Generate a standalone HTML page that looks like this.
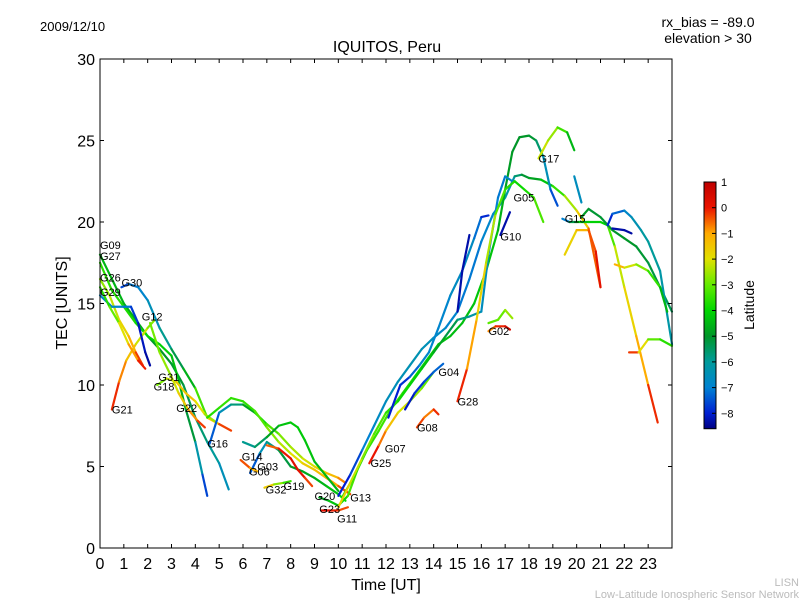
<!DOCTYPE html>
<html><head><meta charset="utf-8"><style>
body{margin:0;background:#fff}
svg text{font-family:"Liberation Sans",sans-serif}
</style></head><body>
<svg id="chart" width="800" height="600" viewBox="0 0 800 600" xmlns="http://www.w3.org/2000/svg">
<rect width="800" height="600" fill="#fff"/>
<text x="40" y="31" font-size="13">2009/12/10</text>
<text x="708" y="27" font-size="14" text-anchor="middle">rx_bias = -89.0</text>
<text x="708" y="43" font-size="14" text-anchor="middle">elevation &gt; 30</text>
<text x="387" y="52" font-size="16" text-anchor="middle">IQUITOS, Peru</text>
<g id="plot"></g>
<rect x="100" y="59" width="572" height="489" fill="none" stroke="#000" stroke-width="1"/>
<g id="axes"></g>
<text x="386" y="590" font-size="16" text-anchor="middle">Time [UT]</text>
<text transform="translate(67,303) rotate(-90)" font-size="16" text-anchor="middle">TEC [UNITS]</text>
<g id="cbar"></g>
<text transform="translate(754,305) rotate(-90)" font-size="14" text-anchor="middle">Latitude</text>
<text x="799" y="586" font-size="11" fill="#bbb" text-anchor="end">LISN</text>
<text x="799" y="598" font-size="11" fill="#bbb" text-anchor="end">Low-Latitude Ionospheric Sensor Network</text>
</svg>
<script>
const xTicks=[0,1,2,3,4,5,6,7,8,9,10,11,12,13,14,15,16,17,18,19,20,21,22,23];
const yTicks=[0,5,10,15,20,25,30];
const cbTicks=[1,0,-1,-2,-3,-4,-5,-6,-7,-8];
// each series: times, TEC values, latitudes
const seriesT=[
[0,0.5,1,1.5,2,2.5,3,3.5,4,4.5,5,5.4],
[0,0.5,1,1.5,2,2.5,3,3.3,3.6,4,4.3,4.5],
[0,0.4,0.8,1.2,1.5,1.8],
[0.5,0.8,1.1,1.5,2,2.3],
[0.9,1.2,1.6,2,2.5,3,3.5,4,4.5,5,5.5],
[0,0.5,1,1.3,1.6,1.9,2.1],
[0,0.4,0.8,1.2,1.6,1.9],
[2.1,2.5,3,3.3,3.7,4.1,4.4],
[2.4,2.8,3.2,3.6,4,4.4,4.8],
[4.6,5,5.5,6,6.5,7,7.5,8,8.5,9,9.5,10,10.3],
[4.5,5,5.5,6,6.5,7,7.5,8,8.5,9,9.5,10,10.5],
[6,6.5,7,7.5,8,8.3,8.6,9,9.5,10],
[6.3,6.7,7,7.5,8,8.5,9,9.5,10,10.3],
[5.9,6.3,6.6],
[7,7.5,8,8.3,8.6,8.9],
[6.9,7.3,7.7,8],
[9.3,9.7,10,10.4],
[9.2,9.6,10,10.4,10.8],
[10,10.5,11,11.5,12,12.5,13,13.5,14,14.5,15,15.5,16,16.5,17,17.4,17.7,18,18.5,19,19.5,20,20.5,21],
[10.2,10.7,11.2,11.7,12.2,12.7,13.2,13.7,14.2,14.7,15.2,15.7,16.2,16.7,17,17.3,17.6,18,18.3,18.6,18.9,19.2],
[10,10.5,11,11.5,12,12.5,13,13.5,14,14.5,15,15.5,16,16.3,16.7,17,17.3],
[15,15.4,15.8,16.2,16.6,17,17.4,17.8,18.2,18.6],
[18.4,18.8,19.2,19.6,19.9],
[11.3,11.7,12,12.5,13,13.5,14],
[12.1,12.6,13,13.4,13.8,14.2,14.7,15.2,15.7,16,16.3],
[12.8,13.2,13.6,14,14.4],
[15,15.2,15.5],
[16.3,16.6,17,17.2],
[19.4,19.7,20,20.5,21,21.3,21.6,22,22.5,23,23.4],
[20.2,20.5,21,21.5,22,22.5,23,23.5,24],
[21.3,21.5,22,22.3,22.7,23,23.5,24],
[21.5,22,22.3],
[19.9,20.2],
[21.6,22,22.5,23,23.5,23.8],
[22.2,22.6,23,23.5,24],
[19.5,20,20.5,20.8,21],
[16.8,17.2],
[16.3,16.7,17,17.3],
[13.3,13.6,14,14.2]
];
const seriesV=[
[18,16.5,15,14,13,12.2,11.3,10,8,6.5,5.2,3.6],
[17.5,15.8,14.8,13.8,13,12.5,11.8,10.3,8.5,6.5,4.5,3.2],
[16.5,15.5,14,13,12,11.2],
[8.5,10.2,11.5,12.5,13.5,14],
[16,16.2,16,15.2,13.5,12.2,11,9.8,8,7.6,7.2],
[15.5,14.8,14.8,14.8,13.8,12,11.2],
[16,14.8,13.8,12.5,11.5,11],
[13.8,12,10.5,9.5,8.5,7.8,7.4],
[10,10.4,10.2,9.5,9,8.2,7.8],
[6.4,8.3,8.8,8.8,8.3,7.6,7,6.2,5.5,5,4.6,4.3,4],
[8,8.6,9.2,9,8.4,7.4,6.5,5.8,5.2,4.8,4.3,3.8,3.3],
[6.5,6.2,6.8,7.5,7.7,7.4,6.6,5.3,4.4,3.5],
[4.6,5.8,6.5,6,5,4.7,4.3,3.8,3.3,2.9],
[5.4,4.9,4.7],
[6.3,6.1,5.5,4.8,4.3,3.8],
[3.7,3.9,4,4.1],
[2.3,2.3,2.3,2.5],
[3.1,2.9,2.6,3.2,4.8],
[3.2,4.5,6,7.5,9,10.2,11.2,12.2,12.9,13.5,14.5,16.5,18.8,20.5,21.5,22.8,22.9,22.7,22.6,22.2,21.6,20.7,19.6,16],
[3.2,4.5,6,7.2,8.5,9.5,10.5,11.5,12.5,13,13.8,15,17,19.5,22,24.3,25.2,25.3,25,24,22,21],
[2.5,4,5.5,7,8.3,9,10,11,12,13,14,14.2,14.5,18,21.5,22.8,22.5],
[9,11,14,17.5,20.5,22,22.5,22,21.5,20],
[23.9,25,25.8,25.5,24.4],
[5.2,6.3,7.2,8.3,9,9.8,10.8],
[8,10,10.5,11.2,12,13.5,15.5,17,19,20.3,20.4],
[8.5,9.5,10.2,10.8,11.3],
[14.5,17,19.2],
[13.3,13.6,13.6,13.4],
[20.2,20,20,20,20,19.8,18.5,16,13,10,7.7],
[20.3,20.8,20.3,19.5,19,18.5,17.5,16,14.5],
[19.8,20.5,20.7,20.3,19.5,18.8,17,12.5],
[19.6,19.5,19.3],
[22.8,21.2],
[17.4,17.2,17.4,17,16,14.5],
[12,12,12.8,12.8,12.4],
[18,19.5,19.5,18.2,16],
[19.2,20.6],
[13.8,14,14.6,14.1],
[7.4,8,8.5,8.2]
];
const seriesLat=[
[-4.5,-4.5,-4.6,-4.7,-4.8,-5,-5,-5.2,-5.5,-5.8,-6.2,-6.8],
[-3.6,-3.6,-3.7,-3.8,-4,-4,-4.2,-4.5,-4.8,-5.5,-7,-8.2],
[-2.8,-2.5,-2,-1.5,-0.6,0.1],
[0.2,-0.5,-1,-1.8,-2.5,-3],
[-8,-7.2,-7,-6.8,-6.2,-5.6,-5,-4.2,-2.5,-0.8,0.2],
[-6.8,-6.8,-6.8,-7.4,-8,-8.3,-8.4],
[-3.8,-3.5,-2.5,-1.5,-0.3,0.2],
[-3,-2.8,-2.5,-1.8,-1.2,-0.5,0],
[-3.2,-2.5,-1.8,-1.2,-1.7,-2.3,-2.8],
[-8,-6.8,-6.2,-5.2,-4.3,-3.5,-3,-2.6,-2.3,-2,-1.6,-1,-0.5],
[-3.8,-3.5,-3.5,-3.6,-3.4,-3,-2.5,-2.2,-1.8,-1.4,-1.2,-0.8,0],
[-6,-5.8,-5.2,-4.4,-4.2,-4.2,-4.2,-4.4,-4.5,-4.6],
[-8,-6.8,-6.2,-5.4,-5,-4.8,-4.6,-4.5,-4.2,-3.6],
[0,-0.8,-1.5],
[-0.8,-0.2,0.2,0.3,0,-0.6],
[-1,-2.2,-3.2,-3.8],
[0.2,0.1,-0.2,-0.5],
[-5,-4.6,-4,-3.6,-3],
[-8,-8,-7.2,-6.8,-6.6,-6.5,-6.4,-6.4,-6.6,-6.8,-7,-7.2,-7,-6.8,-6.5,-6,-5.2,-5,-4.6,-4,-3,-2,-1.2,0.2],
[-4,-3.8,-3.6,-3.4,-3.4,-3.6,-3.8,-4,-4.2,-4.4,-4.4,-4.3,-4.2,-4.4,-4.8,-5,-5,-5,-5.2,-6,-7,-8],
[-1.5,-2,-2.5,-3,-3.4,-3.8,-4,-4.2,-4.5,-5,-5.6,-6,-6.4,-6.8,-7.2,-7,-6.6],
[0.3,-0.5,-1.4,-2,-2.8,-3.5,-3.8,-4,-3.5,-3],
[-2,-2.4,-2.8,-4,-5],
[0.3,-0.3,-1,-1.8,-2.4,-2.8,-3.2],
[-8,-8,-7.6,-7,-6.8,-7,-6.8,-6.6,-6.8,-7.6,-8.2],
[-8.2,-8,-7.6,-7.4,-7.2],
[-8.3,-8.3,-8.3],
[-1,-0.5,0.3,0.5],
[-8,-6,-4.5,-4.2,-4,-4,-2.5,-2,-1.5,-0.6,0.3],
[-4.8,-5,-5.2,-5,-5,-5,-5.2,-5.3,-5.5],
[-8.2,-7.6,-7,-6.6,-6.2,-6,-6,-6.4],
[-8.3,-8.3,-8.4],
[-6.6,-6.6],
[-0.5,-1.8,-2.5,-3,-4,-5],
[0.3,-0.8,-3,-3.2,-4],
[-1.8,-1.6,-0.8,0,0.3],
[-8.3,-8.3],
[-3,-3.2,-2.8,-2.4],
[0.2,-0.8,-0.6,0.3]
];
const labelNames=["G09","G27","G26","G29","G30","G12","G31","G18","G21","G22","G16","G14","G03","G06","G32","G19","G20","G23","G11","G13","G25","G07","G08","G04","G28","G02","G10","G05","G17","G15"];
const labelT=[0,0,0,0,0.9,1.75,2.45,2.25,0.5,3.2,4.5,5.95,6.6,6.25,6.95,7.7,9.0,9.2,9.95,10.5,11.35,11.95,13.3,14.2,15.0,16.3,16.8,17.35,18.4,19.5];
const labelV=[18.6,17.9,16.6,15.7,16.3,14.2,10.5,9.9,8.5,8.6,6.4,5.6,5.0,4.7,3.6,3.8,3.2,2.4,1.8,3.1,5.2,6.1,7.4,10.8,9.0,13.3,19.1,21.5,23.9,20.2];

const X0=100,X1=672,Y0=548,Y1=59;
const xs=t=>X0+(t/24)*(X1-X0);
const ys=v=>Y0-(v/30)*(Y0-Y1);
const cbTop=182,cbUnit=25.7,cbMin=-8.6,cbMax=1;
const cy=l=>cbTop+(cbMax-l)*cbUnit;
const stops=[[1,[190,0,0]],[0,[235,20,0]],[-1,[255,170,0]],[-2,[225,225,0]],[-3,[100,235,0]],[-4,[0,215,0]],[-5,[0,150,40]],[-6,[0,155,155]],[-7,[0,130,210]],[-8,[0,30,210]],[-8.6,[0,0,130]]];
function col(l){l=Math.max(cbMin,Math.min(cbMax,l));
for(let i=0;i<stops.length-1;i++){const a=stops[i],b=stops[i+1];if(l<=a[0]&&l>=b[0]){const f=(a[0]-l)/(a[0]-b[0]);const c=a[1].map((v,k)=>Math.round(v+(b[1][k]-v)*f));return`rgb(${c})`;}}return"rgb(0,0,130)";}
const NS="http://www.w3.org/2000/svg";
function mk(tag,attrs,parent){const e=document.createElementNS(NS,tag);for(const k in attrs)e.setAttribute(k,attrs[k]);parent.appendChild(e);return e;}
const plot=document.getElementById('plot');
seriesT.forEach((ts,si)=>{
  const g=mk('g',{},plot);
  
  
  for(let i=0;i<ts.length-1;i++){
    const seg=mk('line',{x1:xs(ts[i]),y1:ys(seriesV[si][i]),x2:xs(ts[i+1]),y2:ys(seriesV[si][i+1]),stroke:col((seriesLat[si][i]+seriesLat[si][i+1])/2),'stroke-width':2.2,'stroke-linecap':'round'},g);
    
    
  }
});
labelNames.forEach((n,i)=>{
  const t=mk('text',{x:xs(labelT[i]),y:ys(labelV[i])+4,'font-size':11},plot);
  t.textContent=n;
  
  
});
const axes=document.getElementById('axes');
xTicks.forEach(v=>{
  const x=xs(v);
  const a=mk('line',{x1:x,y1:Y0,x2:x,y2:Y0-4,stroke:'#000'},axes);
  
  
  const b=mk('line',{x1:x,y1:Y1,x2:x,y2:Y1+4,stroke:'#000'},axes);
  
  
  const t=mk('text',{x:x,y:569,'font-size':16,'text-anchor':'middle'},axes);
  t.textContent=v;
  
  
});
yTicks.forEach(v=>{
  const y=ys(v);
  const a=mk('line',{x1:X0,y1:y,x2:X0+4,y2:y,stroke:'#000'},axes);
  
  
  const b=mk('line',{x1:X1,y1:y,x2:X1-4,y2:y,stroke:'#000'},axes);
  
  
  const t=mk('text',{x:95,y:y+6,'font-size':16,'text-anchor':'end'},axes);
  t.textContent=v;
  
  
});
const cb=document.getElementById('cbar');
const defs=mk('defs',{},cb);
const gr=mk('linearGradient',{id:'cbg',x1:0,y1:0,x2:0,y2:1},defs);
stops.forEach(s=>{mk('stop',{offset:((cbMax-s[0])/(cbMax-cbMin)),'stop-color':`rgb(${s[1]})`},gr);});
const r=mk('rect',{x:704,y:cbTop,width:12,height:(cbMax-cbMin)*cbUnit,fill:'url(#cbg)',stroke:'#000','stroke-width':1},cb);


cbTicks.forEach(v=>{
  const y=cy(v);
  const a=mk('line',{x1:712,y1:y,x2:716,y2:y,stroke:'#000'},cb);
  
  
  const t=mk('text',{x:721,y:y+4,'font-size':11},cb);
  t.textContent=v<0?'\u2212'+(-v):v;
  
  
});
</script>
</body></html>
